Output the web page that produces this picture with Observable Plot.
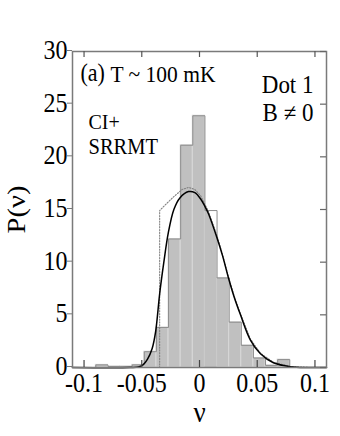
<!DOCTYPE html>
<html>
<head>
<meta charset="utf-8">
<script src="https://cdn.jsdelivr.net/npm/d3@7"></script>
<script src="https://cdn.jsdelivr.net/npm/@observablehq/plot@0.6"></script>
<style>
  html, body { margin: 0; padding: 0; background: #fff; }
  #chart svg { display: block; }
</style>
</head>
<body>
<div id="chart"></div>
<script>
// ---- data ----
const binWidth = 0.0105;
const binLeft = [-0.0898, -0.0793, -0.0688, -0.0583, -0.0478, -0.0373, -0.0268, -0.0163,
                 -0.0058, 0.0047, 0.0152, 0.0257, 0.0362, 0.0467, 0.0572, 0.0677];
const binHeight = [0.25, 0.1, 0.1, 0.25, 1.5, 3.8, 12.2, 21.1,
                   23.9, 14.9, 8.5, 4.3, 2.1, 0.9, 0.2, 0.75];
// bins whose grey fill only reaches up to the solid curve
const curveFilledBins = [0.0047];

// solid curve (CI + SRRMT)
const solidX = [-0.110, -0.060, -0.053, -0.049, -0.045, -0.041, -0.038, -0.0345, -0.031, -0.027,
                -0.0222, -0.017, -0.0095, -0.004, 0.001, 0.0047, 0.0078, 0.0152, 0.020, 0.0251,
                0.030, 0.0355, 0.0441, 0.0528, 0.064, 0.0787, 0.095, 0.110];
const solidY = [0, 0, 0.05, 0.25, 0.8, 1.8, 3.4, 7.0, 9.9, 12.8,
                15.0, 16.1, 16.7, 16.6, 16.0, 15.3, 14.6, 12.3, 10.6, 8.5,
                6.7, 5.0, 2.6, 1.3, 0.45, 0.08, 0, 0];

// dotted curve
const dottedX = [-0.110, -0.0345, -0.0345, -0.030, -0.0225, -0.015, -0.0095, -0.004, 0.001, 0.0078,
                 0.0152, 0.020, 0.0251, 0.030, 0.0355, 0.0441, 0.0528, 0.064, 0.0787, 0.095, 0.110];
const dottedY = [0, 0, 14.9, 15.4, 16.2, 16.9, 17.1, 16.9, 16.3, 14.8,
                 12.5, 10.7, 8.6, 6.8, 5.1, 2.7, 1.35, 0.5, 0.1, 0, 0];

const xTicks = [-0.1, -0.05, 0, 0.05, 0.1];
const yTicks = [0, 5, 10, 15, 20, 25, 30];

// ---- tables built from the arrays ----
const bins = binLeft.map((x1, i) => ({x1, x2: x1 + binWidth, h: binHeight[i],
  curve: curveFilledBins.some(c => Math.abs(c - x1) < 1e-9)}));
const solid = solidX.map((x, i) => ({x, y: solidY[i]}));
const dotted = dottedX.map((x, i) => ({x, y: dottedY[i]}));

// outline of the histogram (top contour)
const outline = [{x: bins[0].x1, y: 0}];
bins.forEach(b => outline.push({x: b.x1, y: b.h}));
outline.push({x: bins[bins.length - 1].x2, y: bins[bins.length - 1].h});
outline.push({x: bins[bins.length - 1].x2, y: 0});

const curveBin = bins.filter(b => b.curve);
const underCurve = curveBin.map(b => solid.filter(d => d.x >= b.x1 - 1e-9 && d.x <= b.x2 + 1e-9));

const W = 340, H = 436;
const mL = 72, mR = 14, mT = 51, mB = 69;
const plotW = W - mL - mR, plotH = H - mT - mB;
const serif = "'Liberation Serif', 'Times New Roman', serif";

const chart = Plot.plot({
  width: W,
  height: H,
  marginLeft: mL,
  marginRight: mR,
  marginTop: mT,
  marginBottom: mB,
  style: {fontFamily: serif, fontSize: "24px", color: "#000", background: "#fff"},
  x: {domain: [-0.11, 0.11]},
  y: {domain: [0, 30]},
  marks: [
    // grey histogram bars
    Plot.rect(bins.filter(b => !b.curve), {x1: "x1", x2: "x2", y1: 0, y2: "h",
      fill: "#c0c0c0", stroke: "#d8d8d8", strokeWidth: 1}),
    // bins filled only under the curve
    ...underCurve.map(pts => Plot.areaY(pts, {x: "x", y: "y", fill: "#c0c0c0", curve: "catmull-rom"})),
    // histogram contour
    Plot.line(outline, {x: "x", y: "y", curve: "step-after", stroke: "#8c8c8c", strokeWidth: 1}),
    // dotted curve
    Plot.line(dotted, {x: "x", y: "y", stroke: "#808080", strokeWidth: 1.1,
      strokeDasharray: "1.2,1.6", curve: "linear"}),
    // solid curve
    Plot.line(solid, {x: "x", y: "y", stroke: "#000", strokeWidth: 1.5, curve: "catmull-rom"}),
    // frame
    Plot.frame({stroke: "#7a7a7a", strokeWidth: 1.5}),
    // inward ticks: top, bottom, right
    Plot.tickX(xTicks, {x: d => d, insetBottom: plotH - 6, stroke: "#555", strokeWidth: 1.2}),
    Plot.tickX(xTicks, {x: d => d, insetTop: plotH - 7, stroke: "#444", strokeWidth: 1.2}),
    Plot.tickY(yTicks, {y: d => d, insetLeft: plotW - 6, stroke: "#666", strokeWidth: 1.2}),
    // axes
    Plot.axisY({ticks: yTicks, tickSize: 5, tickPadding: 0, label: null, stroke: "#777",
      fontSize: 24, dy: -1, tickFormat: d => String(d)}),
    Plot.axisX({ticks: xTicks, tickSize: 0, tickPadding: 6, label: null, fontSize: 24,
      tickFormat: d => String(d)}),
    // axis titles
    Plot.text(["P(ν)"], {frameAnchor: "left", dx: -56, rotate: -90, fontSize: 26,
      textAnchor: "middle", lineAnchor: "middle"}),
    Plot.text(["ν"], {frameAnchor: "bottom", dy: 45, fontSize: 27,
      textAnchor: "middle", lineAnchor: "middle"}),
    // annotations
    Plot.text(["(a)"], {frameAnchor: "top-left", dx: 8, dy: 29, fontSize: 22,
      textAnchor: "start", lineAnchor: "bottom"}),
    Plot.text(["T ~ 100 mK"], {frameAnchor: "top-left", dx: 38, dy: 30, fontSize: 21.5,
      textAnchor: "start", lineAnchor: "bottom"}),
    Plot.text(["Dot 1"], {frameAnchor: "top-right", dx: -13, dy: 41, fontSize: 23,
      textAnchor: "end", lineAnchor: "bottom"}),
    Plot.text(["B ≠ 0"], {frameAnchor: "top-right", dx: -13, dy: 69, fontSize: 23,
      textAnchor: "end", lineAnchor: "bottom"}),
    Plot.text(["CI+"], {frameAnchor: "top-left", dx: 16, dy: 77, fontSize: 20,
      textAnchor: "start", lineAnchor: "bottom"}),
    Plot.text(["SRRMT"], {frameAnchor: "top-left", dx: 16, dy: 102, fontSize: 20.5,
      textAnchor: "start", lineAnchor: "bottom"})
  ]
});

// the reference's lettering is slightly stretched vertically
d3.select(chart).selectAll("text").each(function() {
  const t = this.getAttribute("transform") || "";
  const x = parseFloat(this.getAttribute("x")) || 0;
  const y = parseFloat(this.getAttribute("y")) || 0;
  const rotated = /rotate/.test(t);
  const s = rotated ? "scale(1.1,1)" : "scale(1,1.1)";
  this.setAttribute("transform", `${t} translate(${x},${y}) ${s} translate(${-x},${-y})`);
});

document.getElementById("chart").appendChild(chart);
</script>
</body>
</html>
